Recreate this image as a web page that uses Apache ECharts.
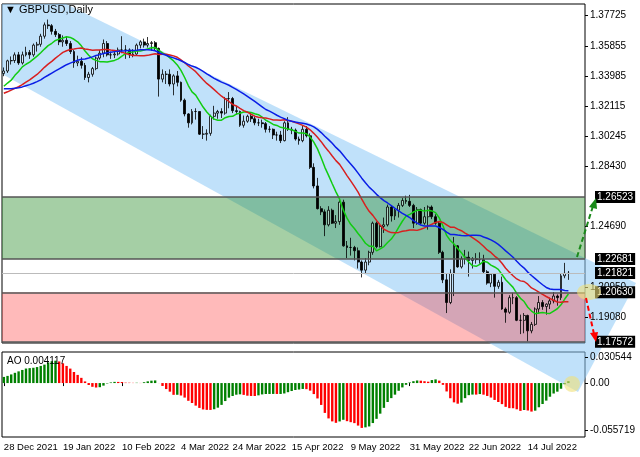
<!DOCTYPE html>
<html>
<head>
<meta charset="utf-8">
<script src="https://cdn.jsdelivr.net/npm/echarts@6/dist/echarts.min.js"></script>
<style>
  html, body { margin: 0; padding: 0; background: #fff; }
  #chart { width: 640px; height: 457px; }
</style>
</head>
<body>
<div id="chart"></div>
<script>
// prices in pips above 1.0000 (e.g. 3430 -> 1.3430)
const warmupCloses = [3395, 3365, 3415, 3425, 3460, 3500, 3500, 3440, 3395, 3370, 3335, 3320, 3335, 3300, 3300,
  3270, 3310, 3265, 3265, 3215, 3245, 3215, 3260, 3200, 3235, 3295, 3320, 3230, 3240, 3245, 3385, 3395, 3405, 3415];

const closes = [3430, 3493, 3495, 3530, 3480, 3530, 3545, 3530, 3590, 3595, 3645, 3715, 3710, 3675, 3655, 3610,
  3620, 3600, 3550, 3480, 3490, 3465, 3390, 3410, 3445, 3510, 3540, 3600, 3530, 3530, 3535, 3560, 3560, 3560,
  3530, 3535, 3590, 3610, 3590, 3600, 3605, 3570, 3380, 3410, 3410, 3350, 3400, 3360, 3250, 3165, 3110, 3180,
  3180, 3040, 3040, 3045, 3150, 3170, 3180, 3170, 3260, 3260, 3185, 3180, 3095, 3120, 3150, 3135, 3110, 3110,
  3105, 3070, 3070, 3035, 3035, 3000, 3110, 3070, 3065, 3010, 3000, 3070, 3030, 2835, 2720, 2580, 2560, 2480,
  2570, 2490, 2500, 2620, 2350, 2340, 2340, 2320, 2250, 2200, 2250, 2310, 2490, 2345, 2470, 2480, 2590, 2535,
  2570, 2600, 2630, 2625, 2600, 2490, 2575, 2490, 2530, 2590, 2530, 2490, 2310, 2140, 2000, 2180, 2350, 2220,
  2270, 2280, 2260, 2270, 2265, 2265, 2190, 2120, 2175, 2100, 2125, 1960, 1940, 2030, 2030, 1890, 1890, 1920,
  1825, 1865, 1960, 2000, 1975, 1990, 2010, 2040, 2030, 2165, 2180, 2180];

const highs = [3452, 3500, 3520, 3545, 3548, 3550, 3580, 3560, 3600, 3610, 3660, 3730, 3748, 3720, 3690, 3665,
  3650, 3645, 3615, 3560, 3525, 3515, 3480, 3425, 3455, 3520, 3560, 3625, 3615, 3550, 3560, 3575, 3645, 3590,
  3570, 3565, 3600, 3620, 3630, 3640, 3615, 3615, 3575, 3440, 3430, 3440, 3410, 3430, 3365, 3260, 3170, 3195,
  3200, 3180, 3090, 3070, 3160, 3215, 3190, 3200, 3270, 3300, 3270, 3215, 3185, 3155, 3160, 3175, 3150, 3135,
  3130, 3115, 3090, 3075, 3055, 3060, 3120, 3145, 3085, 3075, 3025, 3090, 3090, 3045, 2860, 2770, 2595, 2575,
  2595, 2580, 2540, 2640, 2635, 2380, 2400, 2350, 2340, 2260, 2275, 2320, 2500, 2500, 2480, 2525, 2605, 2600,
  2580, 2615, 2645, 2660, 2665, 2610, 2590, 2580, 2590, 2600, 2600, 2545, 2500, 2320, 2180, 2205, 2405, 2355,
  2285, 2325, 2315, 2280, 2305, 2310, 2295, 2200, 2180, 2180, 2140, 2160, 1970, 2045, 2060, 2040, 1925, 1935,
  1925, 1880, 1970, 2040, 2015, 1995, 2030, 2065, 2050, 2180, 2245, 2195];

const lows = [3398, 3418, 3470, 3480, 3468, 3470, 3520, 3505, 3518, 3550, 3580, 3630, 3690, 3655, 3640, 3590,
  3580, 3585, 3535, 3450, 3460, 3445, 3375, 3360, 3395, 3435, 3500, 3515, 3520, 3505, 3510, 3525, 3540, 3505,
  3510, 3515, 3530, 3570, 3575, 3575, 3555, 3560, 3272, 3360, 3350, 3335, 3280, 3335, 3240, 3150, 3080, 3100,
  3130, 3035, 3010, 3000, 3030, 3130, 3135, 3140, 3160, 3200, 3170, 3160, 3085, 3080, 3110, 3115, 3095, 3090,
  3080, 3050, 3050, 3010, 3000, 2985, 2995, 3060, 3040, 3000, 2975, 2990, 3020, 2825, 2705, 2575, 2540, 2410,
  2470, 2485, 2460, 2480, 2345, 2275, 2290, 2260, 2210, 2155, 2180, 2230, 2295, 2335, 2340, 2430, 2470, 2500,
  2510, 2525, 2590, 2610, 2590, 2460, 2480, 2480, 2480, 2450, 2515, 2480, 2300, 2120, 1935, 1990, 2040, 2215,
  2210, 2235, 2160, 2210, 2240, 2240, 2180, 2110, 2095, 2030, 2085, 1955, 1875, 1930, 1990, 1885, 1805, 1810,
  1760, 1810, 1855, 1930, 1955, 1925, 1960, 1995, 1980, 2015, 2150, 2140];

const tickLabels = ['28 Dec 2021', '19 Jan 2022', '10 Feb 2022', '4 Mar 2022', '24 Mar 2022', '15 Apr 2022',
  '9 May 2022', '31 May 2022', '22 Jun 2022', '14 Jul 2022'];
const priceTicks = [1.37725, 1.35855, 1.33985, 1.32115, 1.30245, 1.28430, 1.24690, 1.20950, 1.19080, 1.17265];
const levelsDark = [1.26523, 1.22681, 1.20630, 1.17572];
const lastPrice = 1.21821;
const greenZone = [1.22681, 1.26523];
const redZone = [1.17572, 1.20630];
const aoTicks = [0.030544, 0, -0.055719];
const maPeriods = { green: 10, red: 21, blue: 30 };

const px = p => +(1 + p / 10000).toFixed(4);
const months = ['Jan','Feb','Mar','Apr','May','Jun','Jul','Aug','Sep','Oct','Nov','Dec'];
const categories = [];
let d = new Date(2021, 11, 28);
while (categories.length < closes.length + 4) {
  if (d.getDay() !== 0 && d.getDay() !== 6)
    categories.push(d.getDate() + ' ' + months[d.getMonth()] + ' ' + d.getFullYear());
  d.setDate(d.getDate() + 1);
}

const allCloses = warmupCloses.concat(closes).map(px);
const nW = warmupCloses.length;
const candles = closes.map((c, i) => {
  const o = i === 0 ? warmupCloses[nW - 1] : closes[i - 1];
  return [px(o), px(c), px(lows[i]), px(highs[i])];
});
const sma = n => closes.map((_, i) => {
  const j = i + nW;
  let s = 0;
  for (let k = j - n + 1; k <= j; k++) s += allCloses[k];
  return +(s / n).toFixed(5);
});
const medians = warmupCloses.map(px).concat(closes.map((_, i) => (px(highs[i]) + px(lows[i])) / 2));
const avgM = (j, n) => { let s = 0; for (let k = j - n + 1; k <= j; k++) s += medians[k]; return s / n; };
const ao = closes.map((_, i) => avgM(i + nW, 5) - avgM(i + nW, 34));
const aoPrev = avgM(nW - 1, 5) - avgM(nW - 1, 33);
const aoData = ao.map((v, i) => ({
  value: +v.toFixed(6),
  itemStyle: { color: v >= (i ? ao[i - 1] : aoPrev) ? '#008000' : '#ff0000' }
}));

const font = 'Liberation Sans';
const chart = echarts.init(document.getElementById('chart'));

const levelLines = levelsDark.map(v => ({
  yAxis: v, lineStyle: { color: '#555', width: 1.5, type: 'solid' },
  label: { formatter: v.toFixed(5) }
}));
levelLines.push({ yAxis: lastPrice, lineStyle: { color: '#bbb', width: 1, type: 'solid' },
  label: { formatter: lastPrice.toFixed(5) } });

const option = {
  animation: false,
  backgroundColor: '#fff',
  textStyle: { fontFamily: font },
  grid: [
    { left: 2, top: 4, width: 583, height: 339, show: true, borderColor: '#000', borderWidth: 1 },
    { left: 2, top: 352, width: 583, height: 85, show: true, borderColor: '#000', borderWidth: 1 }
  ],
  xAxis: [
    { type: 'category', gridIndex: 0, data: categories, boundaryGap: true,
      axisLine: { show: false }, axisTick: { show: false }, axisLabel: { show: false }, splitLine: { show: false } },
    { type: 'category', gridIndex: 1, data: categories, boundaryGap: true,
      axisLine: { show: false },
      axisTick: { show: true, alignWithLabel: true, length: 3, lineStyle: { color: '#000' },
        interval: (i, v) => tickLabels.includes(v) },
      axisLabel: { interval: (i, v) => tickLabels.includes(v), align: 'left', margin: 5,
        color: '#000', fontSize: 9.5, fontFamily: font },
      splitLine: { show: false } }
  ],
  yAxis: [
    { type: 'value', gridIndex: 0, position: 'right', min: 1.1750, max: 1.3844, scale: true,
      axisLine: { show: false }, splitLine: { show: false },
      axisTick: { show: true, customValues: priceTicks, length: 3, lineStyle: { color: '#000' } },
      axisLabel: { customValues: priceTicks, formatter: v => v.toFixed(5), color: '#000', fontSize: 10,
        fontFamily: font, margin: 5 } },
    { type: 'value', gridIndex: 1, position: 'right', min: -0.0639, max: 0.0368,
      axisLine: { show: false }, splitLine: { show: false },
      axisTick: { show: true, customValues: aoTicks, length: 3, lineStyle: { color: '#000' } },
      axisLabel: { customValues: aoTicks, formatter: v => v === 0 ? '0.00' : v.toFixed(6),
        color: '#000', fontSize: 10, fontFamily: font, margin: 5 } }
  ],
  graphic: [
    { type: 'polygon', z: 0, silent: true,
      shape: { points: [[2, 4], [66, 4], [636, 283], [578, 392], [2, 74]] },
      style: { fill: 'rgba(140,200,245,0.55)' } },
    { type: 'text', left: 5, top: 4, z: 10,
      style: { text: '\u25BC GBPUSD,Daily', fill: '#000', font: '11px ' + font } },
    { type: 'text', left: 7, top: 356, z: 10,
      style: { text: 'AO 0.004117', fill: '#000', font: '10px ' + font } },
    { type: 'ellipse', z: 20, shape: { cx: 589, cy: 292, rx: 12, ry: 8 },
      style: { fill: 'rgba(240,225,120,0.6)' } },
    { type: 'circle', z: 20, shape: { cx: 572, cy: 384, r: 8 },
      style: { fill: 'rgba(240,225,120,0.6)' } },
    { type: 'line', z: 20, shape: { x1: 577, y1: 257, x2: 593, y2: 206 },
      style: { stroke: '#1a8a1a', lineWidth: 2, lineDash: [5, 3] } },
    { type: 'polygon', z: 20, shape: { points: [[596, 198], [589, 207], [597, 209]] },
      style: { fill: '#1a8a1a' } },
    { type: 'line', z: 20, shape: { x1: 586, y1: 298, x2: 594, y2: 334 },
      style: { stroke: '#ff0000', lineWidth: 2, lineDash: [5, 3] } },
    { type: 'polygon', z: 20, shape: { points: [[596, 342], [590, 333], [598, 332]] },
      style: { fill: '#ff0000' } }
  ],
  series: [
    { type: 'candlestick', xAxisIndex: 0, yAxisIndex: 0, data: candles, barWidth: 2.4,
      itemStyle: { color: 'rgba(255,255,255,0.35)', color0: '#000', borderColor: '#000', borderColor0: '#000', borderWidth: 0.8 } },
    { type: 'line', data: sma(maPeriods.green), showSymbol: false, lineStyle: { color: '#11cc11', width: 1.5 }, z: 3 },
    { type: 'line', data: sma(maPeriods.red), showSymbol: false, lineStyle: { color: '#d81f1f', width: 1.5 }, z: 3 },
    { type: 'line', data: sma(maPeriods.blue), showSymbol: false, lineStyle: { color: '#0a1ee6', width: 1.5 }, z: 3,
      markArea: { silent: true, data: [
        [{ yAxis: greenZone[0], itemStyle: { color: 'rgba(40,140,40,0.42)' } }, { yAxis: greenZone[1] }],
        [{ yAxis: redZone[0], itemStyle: { color: 'rgba(255,40,40,0.32)' } }, { yAxis: redZone[1] }]
      ] },
      markLine: { silent: true, symbol: 'none', precision: 5, data: levelLines,
        label: { position: 'end', distance: 10, color: '#fff', backgroundColor: '#000',
          padding: [1, 2], fontSize: 10, fontFamily: font } } },
    { type: 'bar', xAxisIndex: 1, yAxisIndex: 1, data: aoData, barWidth: 2.4 }
  ]
};

chart.setOption(option);
</script>
</body>
</html>
